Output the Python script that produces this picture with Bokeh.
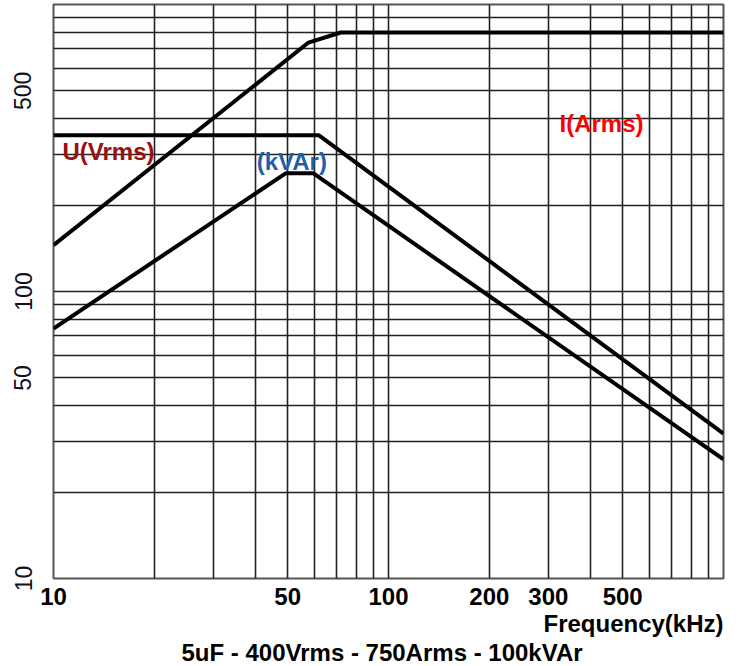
from bokeh.plotting import figure
from bokeh.models import FixedTicker, PrintfTickFormatter, Title
from bokeh.core.properties import value
from bokeh.embed import file_html
from bokeh.resources import INLINE

# ---- data ----
freq_I = [10, 57.7, 72, 1000]
amps_I = [145, 737, 799, 799]

freq_U = [10, 62, 1000]
volts_U = [350, 350, 32.0]

freq_Q = [10, 49.3, 59.7, 1000]
kvar_Q = [74.3, 258, 258, 26.0]

x_grid = [10, 20, 30, 40, 50, 60, 70, 80, 90, 100, 200, 300, 400, 500, 600, 700, 800, 900, 1000]
y_grid = [10, 20, 30, 40, 50, 60, 70, 80, 90, 100, 200, 300, 400, 500, 600, 700, 800, 900, 1000]
x_tick_labels = [10, 50, 100, 200, 300, 500]
y_tick_labels = [10, 50, 100, 500]

FONT = "Liberation Sans"

p = figure(x_axis_type="log", y_axis_type="log",
           x_range=(10, 1000), y_range=(10, 1000),
           frame_width=670, frame_height=574,
           min_border_left=53, min_border_top=4, min_border_right=10, min_border_bottom=0,
           output_backend="svg", toolbar_location=None)

p.background_fill_color = "white"
p.border_fill_color = "white"
p.outline_line_color = "#555555"
p.outline_line_width = 2

p.xgrid.ticker = FixedTicker(ticks=x_grid)
p.ygrid.ticker = FixedTicker(ticks=y_grid)
for g in (p.xgrid, p.ygrid):
    g.grid_line_color = "#222222"
    g.grid_line_width = 1.6
    g.grid_line_alpha = 1.0

p.xaxis.ticker = FixedTicker(ticks=x_tick_labels)
p.yaxis.ticker = FixedTicker(ticks=y_tick_labels)
for ax in (p.xaxis, p.yaxis):
    ax.formatter = PrintfTickFormatter(format="%d")
    ax.axis_line_color = None
    ax.major_tick_line_color = None
    ax.minor_tick_line_color = None
    ax.major_tick_out = 0
    ax.major_tick_in = 0
    ax.major_label_text_font = FONT
    ax.major_label_text_color = "black"

p.xaxis.major_label_text_font_size = "24px"
p.xaxis.major_label_text_font_style = "bold"
p.xaxis.major_label_standoff = 9
p.yaxis.major_label_text_font_size = "23px"
p.yaxis.major_label_orientation = "vertical"
p.yaxis.major_label_standoff = 22
p.yaxis.major_label_text_color = "#111122"

# curves
p.line(freq_I, amps_I, line_color="black", line_width=4)
p.line(freq_U, volts_U, line_color="black", line_width=4)
p.line(freq_Q, kvar_Q, line_color="black", line_width=4)

# series labels
p.text(x=[10.64], y=[308], text=["U(Vrms)"], text_color="#9a1010",
       text_font=value(FONT), text_font_style="bold", text_font_size="24px",
       text_baseline="middle", text_align="left")
p.text(x=[40.4], y=[284], text=["(kVAr)"], text_color="#1f5fa8",
       text_font=value(FONT), text_font_style="bold", text_font_size="24px",
       text_baseline="middle", text_align="left")
p.text(x=[324], y=[385], text=["I(Arms)"], text_color="#ff0000",
       text_font=value(FONT), text_font_style="bold", text_font_size="24px",
       text_baseline="middle", text_align="left")

t1 = Title(text="Frequency(kHz)", align="right", text_font=FONT,
           text_font_size="24px", text_font_style="bold", text_color="black",
           standoff=0, offset=0)
p.add_layout(t1, "below")
t2 = Title(text="5uF - 400Vrms - 750Arms - 100kVAr", align="left", text_font=FONT,
           text_font_size="24px", text_font_style="bold", text_color="black",
           standoff=0, offset=128)
p.add_layout(t2, "below")

open("out.html", "w").write(file_html(p, INLINE))
